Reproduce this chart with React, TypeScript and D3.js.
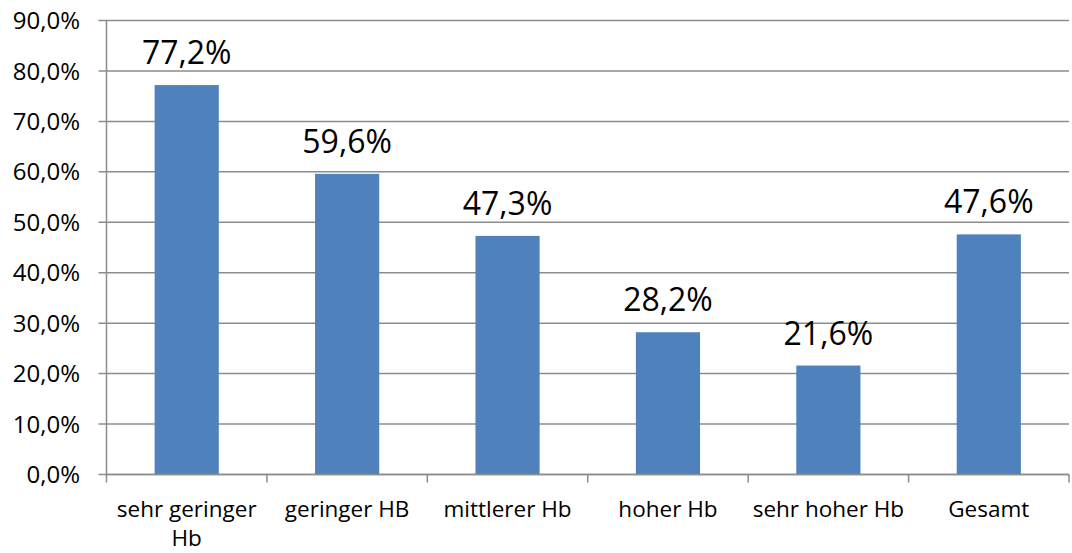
import React, { useRef, useEffect } from 'react';
import * as d3 from 'd3';

const categories = ['sehr geringer Hb', 'geringer HB', 'mittlerer Hb', 'hoher Hb', 'sehr hoher Hb', 'Gesamt'];
const values = [77.2, 59.6, 47.3, 28.2, 21.6, 47.6];
const yTicks = [0, 10, 20, 30, 40, 50, 60, 70, 80, 90];

const fmt = (v: number) => v.toFixed(1).replace('.', ',') + '%';

export default function App() {
  const svgRef = useRef<SVGSVGElement>(null);

  useEffect(() => {
    const width = 1072;
    const height = 553;
    const left = 106.5;
    const right = 1069;
    const top = 20.5;
    const bottom = 474.5;
    const font = "'Open Sans', sans-serif";
    const gridColor = '#8c8c8c';

    const svg = d3.select(svgRef.current)
      .attr('width', width)
      .attr('height', height)
      .style('font-family', font);
    svg.selectAll('*').remove();

    const x = d3.scaleBand<string>()
      .domain(categories)
      .range([left, right])
      .paddingInner(0.6)
      .paddingOuter(0.3);

    const y = d3.scaleLinear().domain([0, 90]).range([bottom, top]);

    // gridlines + y labels
    yTicks.forEach(t => {
      svg.append('line')
        .attr('x1', left - 8).attr('x2', right)
        .attr('y1', y(t)).attr('y2', y(t))
        .attr('stroke', gridColor).attr('stroke-width', 1.5);
      svg.append('text')
        .attr('x', 80).attr('y', y(t))
        .attr('dy', '0.36em')
        .attr('text-anchor', 'end')
        .style('font-size', '24px')
        .style('fill', '#000')
        .text(fmt(t));
    });

    // y axis line
    svg.append('line')
      .attr('x1', left).attr('x2', left)
      .attr('y1', top).attr('y2', bottom)
      .attr('stroke', gridColor).attr('stroke-width', 1.5);

    // x tick marks
    const step = x.step();
    d3.range(categories.length + 1).forEach(i => {
      const xx = left + i * step;
      svg.append('line')
        .attr('x1', xx).attr('x2', xx)
        .attr('y1', bottom).attr('y2', bottom + 8)
        .attr('stroke', gridColor).attr('stroke-width', 1.5);
    });

    // bars
    svg.selectAll('rect.bar')
      .data(values)
      .enter().append('rect')
      .attr('class', 'bar')
      .attr('x', (d, i) => x(categories[i])!)
      .attr('width', x.bandwidth())
      .attr('y', d => y(d))
      .attr('height', d => bottom - y(d))
      .attr('fill', '#4F81BD');

    // bottom axis line drawn over bars
    svg.append('line')
      .attr('x1', left).attr('x2', right)
      .attr('y1', bottom).attr('y2', bottom)
      .attr('stroke', gridColor).attr('stroke-width', 1.5);

    // data labels
    svg.selectAll('text.val')
      .data(values)
      .enter().append('text')
      .attr('class', 'val')
      .attr('x', (d, i) => x(categories[i])! + x.bandwidth() / 2)
      .attr('y', d => y(d) - 21)
      .attr('text-anchor', 'middle')
      .style('font-size', '32px')
      .style('fill', '#000')
      .text(d => fmt(d));

    // category labels, wrapped to the band step
    categories.forEach(c => {
      const cx = x(c)! + x.bandwidth() / 2;
      const text = svg.append('text')
        .attr('x', cx).attr('y', 517)
        .attr('text-anchor', 'middle')
        .style('font-size', '22.5px')
        .style('fill', '#000');
      const words = c.split(' ');
      let line: string[] = [];
      let lineNo = 0;
      let tspan = text.append('tspan').attr('x', cx).attr('y', 517);
      words.forEach(w => {
        line.push(w);
        tspan.text(line.join(' '));
        if ((tspan.node() as SVGTSpanElement).getComputedTextLength() > 164 && line.length > 1) {
          line.pop();
          tspan.text(line.join(' '));
          line = [w];
          lineNo++;
          tspan = text.append('tspan').attr('x', cx).attr('y', 517 + lineNo * 29).text(w);
        }
      });
    });
  }, []);

  return (
    <div style={{ position: 'absolute', left: 0, top: 0 }}>
      <svg ref={svgRef}></svg>
    </div>
  );
}
